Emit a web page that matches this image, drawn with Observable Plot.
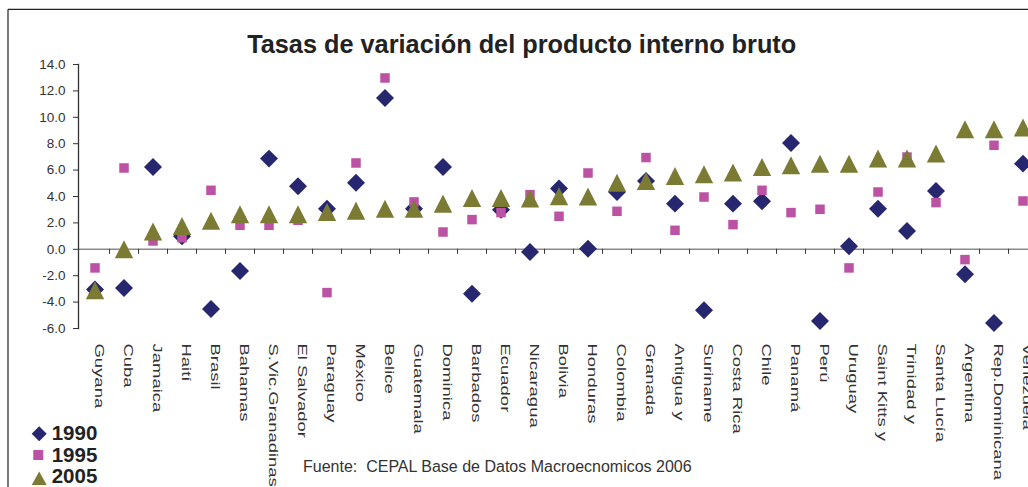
<!DOCTYPE html>
<html><head><meta charset="utf-8">
<script src="https://cdn.jsdelivr.net/npm/d3@7"></script>
<script src="https://cdn.jsdelivr.net/npm/@observablehq/plot@0.6"></script>
<style>
html,body{margin:0;padding:0;background:#fff;overflow:hidden}
#wrap{position:relative;width:1028px;height:487px;overflow:hidden;background:#fff;font-family:"Liberation Sans",Arial,sans-serif}
#wrap svg{position:absolute;left:0;top:0}
</style></head><body><div id="wrap"></div>
<script>
const categories = ["Guyana","Cuba","Jamaica","Haití","Brasil","Bahamas","S.Vic.Granadinas","El Salvador","Paraguay","México","Belice","Guatemala","Dominica","Barbados","Ecuador","Nicaragua","Bolivia","Honduras","Colombia","Granada","Antigua y","Suriname","Costa Rica","Chile","Panamá","Perú","Uruguay","Saint Kitts y","Trinidad y","Santa Lucía","Argentina","Rep.Dominicana","Venezuela"];
const v1990 = [-3.05,-2.93,6.24,0.98,-4.52,-1.64,6.87,4.77,3.08,5.05,11.46,3.08,6.24,-3.36,3.0,-0.2,4.6,0.05,4.34,5.17,3.46,-4.62,3.46,3.64,8.05,-5.43,0.23,3.08,1.39,4.42,-1.89,-5.58,6.49];
const v1995 = [-1.41,6.16,0.63,0.88,4.47,1.82,1.82,2.2,-3.28,6.54,12.98,3.59,1.31,2.25,2.78,4.14,2.5,5.78,2.88,6.95,1.44,3.96,1.87,4.47,2.78,3.03,-1.41,4.34,6.99,3.54,-0.78,7.88,3.66];
const v2005 = [-3.1,0.0,1.34,1.77,2.17,2.65,2.65,2.65,2.83,2.93,3.08,3.08,3.46,3.89,3.89,3.84,4.02,4.0,5.05,5.17,5.55,5.68,5.81,6.24,6.36,6.49,6.49,6.87,6.87,7.25,9.09,9.09,9.22];
const yTicks = [-6,-4,-2,0,2,4,6,8,10,12,14];
const seriesNames = ["1990","1995","2005"];
const colors = ["#27276f","#bb52a3","#7b7b33"];
const titleText = "Tasas de variación del producto interno bruto";
const sourceText = "Fuente:  CEPAL Base de Datos Macroecnomicos 2006";

const seriesValues = [v1990, v1995, v2005];
const rows = categories.flatMap((c, i) => seriesNames.map((s, k) => ({pais: c, serie: s, v: seriesValues[k][i]})));
const bySerie = s => rows.filter(d => d.serie === s);

const tri = {draw(ctx, size) {
  const a = Math.sqrt(size);
  ctx.moveTo(0, -a * 0.5);
  ctx.lineTo(a * 0.51, a * 0.5);
  ctx.lineTo(-a * 0.51, a * 0.5);
  ctx.closePath();
}};

const band = 29.08, x0 = 78.5;
const chart = Plot.plot({
  width: 1028, height: 487,
  marginLeft: 78, marginRight: 0, marginTop: 64, marginBottom: 159,
  style: {fontFamily: "Liberation Sans, Arial, sans-serif", background: "transparent"},
  x: {type: "band", domain: categories, range: [x0, x0 + categories.length * band], padding: 0, axis: null, label: null},
  y: {domain: [-6, 14], axis: null, label: null},
  marks: [
    Plot.ruleY([0], {stroke: "#8a8a8a", strokeWidth: 1.6}),
    Plot.ruleX(categories, {x: d => d, y1: 0, y2: -0.38, dx: band / 2, stroke: "#333", strokeWidth: 1}),
    Plot.frame({anchor: "left", stroke: "#333", strokeWidth: 1.3}),
    Plot.axisY(yTicks, {tickSize: 5, tickPadding: 8, tickFormat: d => d.toFixed(1), fontSize: 13.5, color: "#333", label: null}),
    Plot.dot(bySerie("1990"), {x: "pais", y: "v", symbol: "diamond2", r: 8.1, fill: colors[0]}),
    Plot.dot(bySerie("1995"), {x: "pais", y: "v", symbol: "square", r: 5.36, fill: colors[1]}),
    Plot.dot(bySerie("2005"), {x: "pais", y: "v", symbol: tri, r: 10.16, fill: colors[2]}),
    Plot.text(categories, {x: d => d, frameAnchor: "bottom", dy: 15, rotate: 90, textAnchor: "start", fontSize: 13, fill: "#333"})
  ]
});
const wrap = document.getElementById("wrap");
wrap.appendChild(chart);

// stretch the rotated country labels to match the reference's tall lettering
chart.querySelectorAll('g[aria-label="text"] text').forEach(t => {
  const L = t.getComputedTextLength();
  t.setAttribute("textLength", (L * 1.42).toFixed(1));
  t.setAttribute("lengthAdjust", "spacingAndGlyphs");
});

const ns = "http://www.w3.org/2000/svg";
const ov = document.createElementNS(ns, "svg");
ov.setAttribute("width", 1028); ov.setAttribute("height", 487);
ov.setAttribute("font-family", "Liberation Sans, Arial, sans-serif");
const legendY = [440, 461.7, 483.4];
ov.innerHTML = `
  <line x1="8" y1="9.3" x2="1028" y2="9.3" stroke="#222" stroke-width="1.2"/>
  <line x1="8" y1="9.3" x2="8" y2="487" stroke="#222" stroke-width="1.2"/>
  <text x="521.7" y="53" text-anchor="middle" font-weight="bold" font-size="25.3" fill="#222">${titleText}</text>
  <path d="M39.2,426.3L46.7,433.8L39.2,441.3L31.7,433.8Z" fill="${colors[0]}"/>
  <rect x="33.3" y="450" width="10" height="10" fill="${colors[1]}"/>
  <path d="M39.2,471.5L46.7,485L31.7,485Z" fill="${colors[2]}"/>
  ${seriesNames.map((s, i) => `<text x="51.7" y="${legendY[i]}" font-weight="bold" font-size="20.5" fill="#222">${s}</text>`).join("")}
  <text x="303" y="472.3" font-size="16" fill="#333" xml:space="preserve">${sourceText}</text>
`;
wrap.appendChild(ov);
</script>
</body></html>
